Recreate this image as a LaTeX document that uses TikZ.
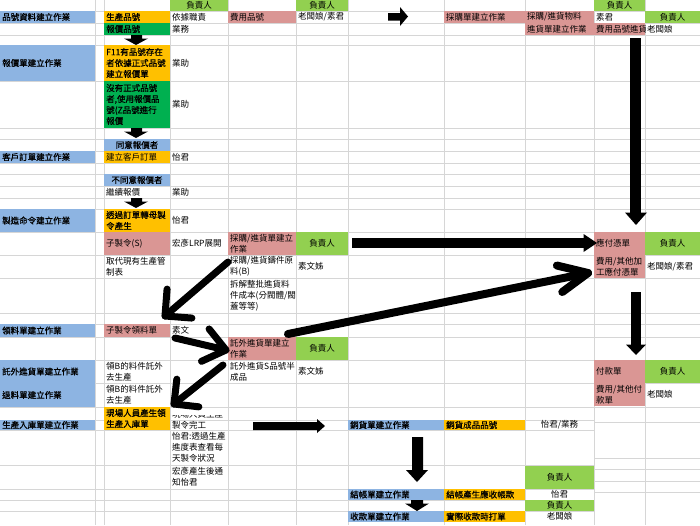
\documentclass[tikz,border=0pt]{standalone}
\usepackage{fontspec}
\setmainfont{Noto Sans CJK TC}
\newfontfamily\cjkb[FakeBold=0.7]{Noto Sans CJK TC}
\usetikzlibrary{fit,calc}
\definecolor{xblue}{HTML}{8DB4E2}
\definecolor{xorange}{HTML}{FFC000}
\definecolor{xgreen}{HTML}{00B050}
\definecolor{xlgreen}{HTML}{92D050}
\definecolor{xpink}{HTML}{DA9694}
\definecolor{xgrid}{HTML}{D6D6D6}
\newcommand\cellN[6]{\node[cellbg=#6, fit={(#2,#3)(#4,#5)}] (#1) {};}
\newcommand\tl[3][]{\node[txt,#1] (#2t) at ([xshift=2pt]#2.west) {#3};}
\newcommand\tc[3][]{\node[ctxt,#1] (#2t) at (#2.center) {#3};}
\begin{document}
\begin{tikzpicture}[x=1pt,y=-1pt,
  font=\fontsize{8.5}{11}\selectfont,
  cellbg/.style={inner sep=0pt, outer sep=0pt, draw=none, fill=#1},
  txt/.style={inner sep=0pt, anchor=west, align=left},
  ctxt/.style={inner sep=0pt, align=center},
  bf/.style={font=\fontsize{8.5}{11}\cjkb},
  grid/.style={draw=xgrid, line width=0.8pt},
  blockarrow/.style={fill=black},
  fat/.style={line width=#1, line cap=butt},
  barb/.style={line width=7pt, line cap=round, line join=round}]
\fill[white] (0,0) rectangle (700,525);
\useasboundingbox (0,0) rectangle (700,525);
% grid
\foreach \y in {11,23,35,45,81,128,139,151,163,174,186,198,209,232,255,278,313,324,337,360,383,407}
  \draw[grid] (0,\y) -- (700,\y);
\foreach \y in {420,430,465,489,500,511}
  \draw[grid] (0,\y) -- (594,\y);
\foreach \y in {422,458,469,481,492}
  \draw[grid] (594,\y) -- (700,\y);
\foreach \x in {95,104,170,228,296,348,444,525,594,645}
  \draw[grid] (\x,0) -- (\x,525);
% column A
\cellN{A2}{0}{11}{95}{23}{xblue}\tl[bf]{A2}{品號資料建立作業}
\cellN{A5}{0}{45}{95}{81}{xblue}\tl[bf]{A5}{報價單建立作業}
\cellN{A9}{0}{151}{95}{163}{xblue}\tl[bf]{A9}{客戶訂單建立作業}
\cellN{A14}{0}{209}{95}{232}{xblue}\tl[bf]{A14}{製造命令建立作業}
\cellN{A19}{0}{324}{95}{337}{xblue}\tl[bf]{A19}{領料單建立作業}
\cellN{A21}{0}{360}{95}{383}{xblue}\tl[bf]{A21}{託外進貨單建立作業}
\cellN{A22}{0}{383}{95}{407}{xblue}\tl[bf]{A22}{退料單建立作業}
\cellN{A24}{0}{420}{95}{430}{xblue}\tl[bf]{A24}{生產入庫單建立作業}
% column C
\cellN{C2}{104}{11}{170}{23}{xorange}\tl[bf]{C2}{生產品號}
\cellN{C3}{104}{23}{170}{35}{xgreen}\tl[bf]{C3}{報價品號}
\cellN{C5}{104}{45}{170}{81}{xorange}\tl[bf]{C5}{F11有品號存在\\者依據正式品號\\建立報價單}
\cellN{C6}{104}{81}{170}{128}{xgreen}\tl[bf]{C6}{沒有正式品號\\者,使用報價品\\號(Z品號進行\\報價}
\cellN{C8}{104}{139}{170}{151}{xblue}\tc[bf]{C8}{同意報價者}
\cellN{C9}{104}{151}{170}{163}{xorange}\tl{C9}{建立客戶訂單}
\cellN{C11}{104}{174}{170}{186}{xblue}\tc[bf]{C11}{不同意報價者}
\cellN{C12}{104}{186}{170}{198}{none}\tl{C12}{繼續報價}
\cellN{C14}{104}{209}{170}{232}{xorange}\tl[bf]{C14}{透過訂單轉母製\\令產生}
\cellN{C15}{104}{232}{170}{255}{xpink}\tl{C15}{子製令(S)}
\cellN{C16}{104}{255}{170}{278}{none}\tl{C16}{取代現有生產管\\制表}
\cellN{C19}{104}{324}{170}{337}{xpink}\tl{C19}{子製令領料單}
\cellN{C21}{104}{360}{170}{383}{none}\tl{C21}{領B的料件託外\\去生產}
\cellN{C22}{104}{383}{170}{407}{none}\tl{C22}{領B的料件託外\\去生產}
\cellN{C23}{104}{407}{170}{430}{xorange}\tl[bf]{C23}{現場人員產生領\\生產入庫單}
% column D
\cellN{D1}{170}{0}{228}{11}{xlgreen}\tc{D1}{負責人}
\cellN{D2}{170}{11}{228}{23}{none}\tl{D2}{依據職責}
\cellN{D3}{170}{23}{228}{35}{none}\tl{D3}{業務}
\cellN{D5}{170}{45}{228}{81}{none}\tl{D5}{業助}
\cellN{D6}{170}{81}{228}{128}{none}\tl{D6}{業助}
\cellN{D9}{170}{151}{228}{163}{none}\tl{D9}{怡君}
\cellN{D12}{170}{186}{228}{198}{none}\tl{D12}{業助}
\cellN{D14}{170}{209}{228}{232}{none}\tl{D14}{怡君}
\cellN{D15}{170}{232}{228}{255}{none}\tl{D15}{宏彥LRP展開}
\cellN{D19}{170}{324}{228}{337}{none}\tl{D19}{素文}
\cellN{D24}{170}{415}{228}{430}{none}
\begin{scope}
\clip (170,415) rectangle (228,430);
\node[inner sep=0pt, anchor=base west, align=left] (D24t) at (172,428) {現場人員生產\\製令完工};
\end{scope}
\cellN{D25}{170}{430}{228}{465}{none}\tl{D25}{怡君:透過生產\\進度表查看每\\天製令狀況}
\cellN{D26}{170}{465}{228}{489}{none}\tl{D26}{宏彥產生後通\\知怡君}
% column E
\cellN{E2}{228}{11}{296}{23}{xpink}\tl{E2}{費用品號}
\cellN{E15}{228}{232}{296}{255}{xpink}\tl{E15}{採購/進貨單建立\\作業}
\cellN{E16}{228}{255}{296}{278}{none}\tl{E16}{採購/進貨鑄件原\\料(B)}
\cellN{E17}{228}{278}{296}{313}{none}\tl{E17}{拆解整批進貨料\\件成本(分閥體/閥\\蓋等等)}
\cellN{E20}{228}{337}{296}{360}{xpink}\tl{E20}{託外進貨單建立\\作業}
\cellN{E21}{228}{360}{296}{383}{none}\tl{E21}{託外進貨S品號半\\成品}
% column F
\cellN{F1}{296}{0}{348}{11}{xlgreen}\tc{F1}{負責人}
\cellN{F2}{296}{11}{348}{23}{none}\tl{F2}{老闆娘/素君}
\cellN{F15}{296}{232}{348}{255}{xlgreen}\tc{F15}{負責人}
\cellN{F16}{296}{255}{348}{278}{none}\tl{F16}{素文姊}
\cellN{F20}{296}{337}{348}{360}{xlgreen}\tc{F20}{負責人}
\cellN{F21}{296}{360}{348}{383}{none}\tl{F21}{素文姊}
% column G
\cellN{G24}{348}{420}{444}{430}{xblue}\tl[bf]{G24}{銷貨單建立作業}
\cellN{G27}{348}{489}{444}{500}{xblue}\tl[bf]{G27}{結帳單建立作業}
\cellN{G29}{348}{511}{444}{522}{xblue}\tl[bf]{G29}{收款單建立作業}
% column H
\cellN{H2}{444}{11}{525}{23}{xpink}\tl{H2}{採購單建立作業}
\cellN{H24}{444}{420}{525}{430}{xorange}\tl[bf]{H24}{銷貨成品品號}
\cellN{H27}{444}{489}{525}{500}{xorange}\tl[bf]{H27}{結帳產生應收帳款}
\cellN{H29}{444}{511}{525}{522}{xorange}\tl[bf]{H29}{實際收款時打單}
% column I
\cellN{I2}{525}{11}{594}{23}{xpink}\tl{I2}{採購/進貨物料}
\cellN{I3}{525}{23}{594}{35}{xpink}\tl{I3}{進貨單建立作業}
\cellN{I24}{525}{420}{594}{430}{none}\tc{I24}{怡君/業務}
\cellN{I26}{525}{466}{594}{489}{xlgreen}\tc{I26}{負責人}
\cellN{I27}{525}{489}{594}{500}{none}\tc{I27}{怡君}
\cellN{I28}{525}{500}{594}{511}{xlgreen}\tc{I28}{負責人}
\cellN{I29}{525}{511}{594}{522}{none}\tc{I29}{老闆娘}
% column J
\cellN{J1}{594}{0}{645}{11}{xlgreen}\tc{J1}{負責人}
\cellN{J2}{594}{11}{645}{23}{none}\tl{J2}{素君}
\cellN{J3}{594}{23}{645}{35}{xpink}
\begin{scope}
\clip (594,23) rectangle (645,35);
\node[txt] (J3t) at ([xshift=2pt]J3.west) {費用品號進貨};
\end{scope}
\cellN{J15}{594}{232}{645}{278}{xpink}
\node[txt] (J15a) at (596,243.5) {應付憑單};
\node[txt] (J15b) at (596,267) {費用/其他加\\工應付憑單};
\cellN{J21}{594}{360}{645}{406}{xpink}
\node[txt] (J21a) at (596,371.5) {付款單};
\node[txt] (J21b) at (596,395) {費用/其他付\\款單};
% column K
\cellN{K2}{645}{11}{700}{23}{xlgreen}\tc{K2}{負責人}
\cellN{K3}{645}{23}{700}{35}{none}\tl{K3}{老闆娘}
\cellN{K15}{645}{232}{700}{255}{xlgreen}\tc{K15}{負責人}
\cellN{K16}{645}{255}{700}{278}{none}\tl{K16}{老闆娘/素君}
\cellN{K21}{645}{360}{700}{383}{xlgreen}\tc{K21}{負責人}
\cellN{K22}{645}{383}{700}{406}{none}\tl{K22}{老闆娘}
% block arrows
\foreach \dy in {0,93,163}
  \fill[blockarrow] (131,35+\dy) -- (142,35+\dy) -- (142,38.5+\dy) -- (148,38.5+\dy) -- (136,45+\dy) -- (124,38.5+\dy) -- (131,38.5+\dy) -- cycle;
\fill[blockarrow] (388,13) -- (400,13) -- (400,7) -- (408,16.5) -- (400,26) -- (400,20.5) -- (388,20.5) -- cycle;
\fill[blockarrow] (253,422) -- (317,422) -- (317,419) -- (325,426) -- (317,433) -- (317,430) -- (253,430) -- cycle;
\fill[blockarrow] (412,437) -- (423,437) -- (423,470) -- (428,470) -- (417,482) -- (406,470) -- (412,470) -- cycle;
\fill[blockarrow] (411,500) -- (423,500) -- (423,503.5) -- (429,503.5) -- (417,511) -- (405,503.5) -- (411,503.5) -- cycle;
% thick arrows with triangle heads
\coordinate (v1s) at (635.5,38);
\coordinate (v1e) at (635.5,213);
\draw[fat=10.5pt] (v1s) -- (v1e);
\fill (625,212.5) -- (647,212.5) -- (636,225) -- cycle;
\coordinate (v2s) at (635.5,292);
\coordinate (v2e) at (635.5,345);
\draw[fat=10pt] (v2s) -- (v2e);
\fill (626,344.5) -- (646,344.5) -- (636,355) -- cycle;
\coordinate (h1s) at (352,243);
\coordinate (h1e) at (584,243);
\draw[fat=9.5pt] (h1s) -- (h1e);
\fill (583.5,234) -- (583.5,252) -- (597,243) -- cycle;
% thick arrows with barb heads
\coordinate (d4s) at (288,334);
\coordinate (d4t) at (588,273);
\draw[barb, line width=8pt] (d4s) -- (d4t);
\draw[barb, line width=8pt] ($(d4t)!32pt!25:(d4s)$) -- (d4t) -- ($(d4t)!32pt!-25:(d4s)$);
\coordinate (d5s) at (228,262);
\coordinate (d5t) at (165,316);
\draw[barb] (d5s) -- (d5t);
\draw[barb] ($(d5t)!27pt!45:(d5s)$) -- (d5t) -- ($(d5t)!27pt!-45:(d5s)$);
\coordinate (d6s) at (175,338);
\coordinate (d6t) at (226,350);
\draw[barb] (d6s) -- (d6t);
\draw[barb] ($(d6t)!27pt!38:(d6s)$) -- (d6t) -- ($(d6t)!27pt!-38:(d6s)$);
\coordinate (d7s) at (223,365);
\coordinate (d7t) at (174,404);
\draw[barb] (d7s) -- (d7t);
\draw[barb] ($(d7t)!25pt!45:(d7s)$) -- (d7t) -- ($(d7t)!25pt!-45:(d7s)$);
\end{tikzpicture}
\end{document}
